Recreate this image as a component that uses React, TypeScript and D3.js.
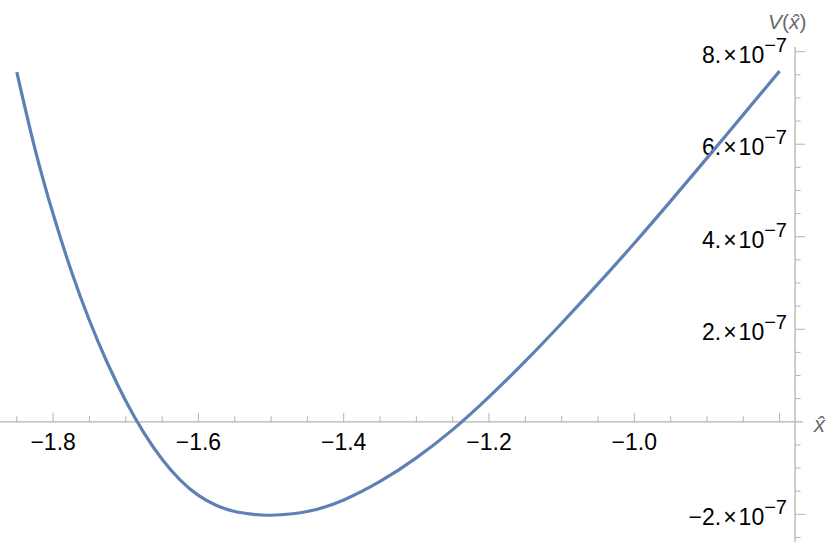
import * as d3 from 'd3'

const X_HAT = [
  -1.85, -1.825, -1.8, -1.775, -1.75, -1.725, -1.7, -1.675, -1.65, -1.625,
  -1.6, -1.575, -1.55, -1.525, -1.5, -1.45, -1.4, -1.35, -1.3, -1.25,
  -1.2, -1.15, -1.1, -1.05, -1.0, -0.95, -0.9, -0.85, -0.8,
]
const V_VALUES = [
  7.56e-7, 5.9e-7, 4.49e-7, 3.26e-7, 2.19e-7, 1.26e-7, 0.45e-7, -0.24e-7, -0.81e-7, -1.26e-7,
  -1.59e-7, -1.81e-7, -1.94e-7, -2.0e-7, -2.02e-7, -1.94e-7, -1.69e-7, -1.29e-7, -0.78e-7, -0.17e-7,
  0.54e-7, 1.31e-7, 2.13e-7, 2.98e-7, 3.86e-7, 4.77e-7, 5.7e-7, 6.64e-7, 7.58e-7,
]

const X_TICKS = [-1.8, -1.6, -1.4, -1.2, -1.0]
const X_TICK_LABELS = ['−1.8', '−1.6', '−1.4', '−1.2', '−1.0']
const Y_TICKS = [-2e-7, 2e-7, 4e-7, 6e-7, 8e-7]
const Y_TICK_MANTISSA = ['−2.', '2.', '4.', '6.', '8.']

const W = 830
const H = 542
const AXIS_COLOR = '#b3b3b3'
const LABEL_COLOR = '#6b6b6b'
const CURVE_COLOR = '#5e81b5'
const FONT = '"Liberation Sans", Arial, sans-serif'

export default function App() {
  // ── Scales ────────────────────────────────────────────────────────────────
  const x = d3.scaleLinear().domain([-1.85, -0.8]).range([16.8, 779.6])
  const y = d3.scaleLinear().domain([-2e-7, 8e-7]).range([514.3, 51.7])

  const axisX = x(-0.7787) // vertical axis sits at the right edge (plot padding)
  const axisY = y(0)

  const data = X_HAT.map((v, i) => ({ xh: v, v: V_VALUES[i] }))
  const line = d3.line<{ xh: number; v: number }>()
    .x((d) => x(d.xh))
    .y((d) => y(d.v))
    .curve(d3.curveNatural)

  // minor ticks every 0.05 on x̂, every 0.5e-7 on V
  const xMinor = d3.range(-1.85, -0.79, 0.05)
    .map((v) => Math.round(v * 100) / 100)
    .filter((v) => Math.abs(Math.round(v * 10) - v * 10) > 1e-6 || Math.round(v * 10) % 2 !== 0)
  const xMajorNoLabel = [-0.8]
  const yMinor = d3.range(-2.5, 8.01, 0.5)
    .filter((v) => Math.abs(v % 2) > 1e-6 && v !== 0)
    .map((v) => v * 1e-7)

  return (
    <svg width={W} height={H} style={{ position: 'absolute', left: 0, top: 0, background: '#fff' }}
      fontFamily={FONT}>
      {/* ── X axis ── */}
      <line x1={0} x2={803} y1={axisY} y2={axisY} stroke={AXIS_COLOR} strokeWidth={1.3} />
      {xMinor.map((v) => (
        <line key={`xm${v}`} x1={x(v)} x2={x(v)} y1={axisY} y2={axisY - 5.5}
          stroke={AXIS_COLOR} strokeWidth={1} />
      ))}
      {[...X_TICKS, ...xMajorNoLabel].map((v) => (
        <line key={`xM${v}`} x1={x(v)} x2={x(v)} y1={axisY} y2={axisY - 9}
          stroke={AXIS_COLOR} strokeWidth={1} />
      ))}
      {X_TICKS.map((v, i) => (
        <text key={`xl${v}`} x={x(v)} y={450} textAnchor="middle" fontSize={23} fill="#000">
          {X_TICK_LABELS[i]}
        </text>
      ))}
      <text x={814} y={432} fontSize={22} fontStyle="italic" fill={LABEL_COLOR}>x̂</text>

      {/* ── Y axis ── */}
      <line x1={axisX} x2={axisX} y1={47} y2={H} stroke={AXIS_COLOR} strokeWidth={1.3} />
      {yMinor.map((v) => (
        <line key={`ym${v}`} x1={axisX} x2={axisX + 5.5} y1={y(v)} y2={y(v)}
          stroke={AXIS_COLOR} strokeWidth={1} />
      ))}
      {Y_TICKS.map((v) => (
        <line key={`yM${v}`} x1={axisX} x2={axisX + 10} y1={y(v)} y2={y(v)}
          stroke={AXIS_COLOR} strokeWidth={1} />
      ))}
      {Y_TICKS.map((v, i) => (
        <text key={`yl${v}`} x={787} y={y(v) + 11} textAnchor="end" fontSize={23} fill="#000">
          {Y_TICK_MANTISSA[i]}
          <tspan dx={2}>×</tspan>
          <tspan dx={2}>10</tspan>
          <tspan dy={-11} fontSize={20}>−7</tspan>
        </text>
      ))}
      <text x={768} y={29} fontSize={21} fill={LABEL_COLOR}>
        <tspan fontStyle="italic">V</tspan>(<tspan fontStyle="italic">x̂</tspan>)
      </text>

      {/* ── Curve ── */}
      <path d={line(data) ?? ''} fill="none" stroke={CURVE_COLOR} strokeWidth={3.2}
        strokeLinejoin="round" strokeLinecap="butt" />
    </svg>
  )
}
